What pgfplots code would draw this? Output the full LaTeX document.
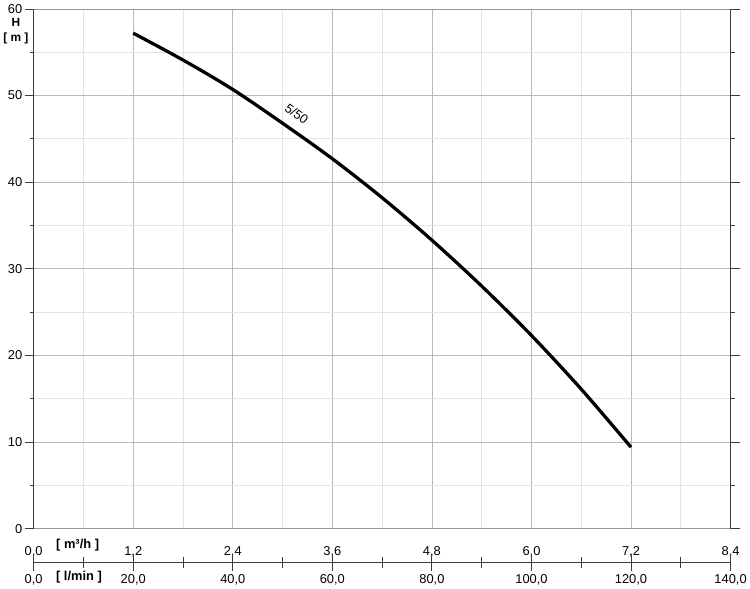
\documentclass[border=0pt]{standalone}
\usepackage{pgfplots}
\pgfplotsset{compat=1.18}
\usepackage{fontspec}
\setmainfont{Liberation Sans}

\definecolor{majgrid}{RGB}{185,185,185}
\definecolor{mingrid}{RGB}{228,228,228}
\definecolor{axgray}{RGB}{150,150,150}
\definecolor{axdark}{RGB}{60,60,60}

\begin{document}
\begin{tikzpicture}[font=\fontsize{13}{15}\selectfont]
% main pump curve axis, x in m3/h
\begin{axis}[
    name=main,
    scale only axis,
    width=704pt, height=525pt,
    xmin=0, xmax=8.4, ymin=0, ymax=60,
    xtick={0,1.2,2.4,3.6,4.8,6.0,7.2,8.4},
    minor xtick={0.6,1.8,3.0,4.2,5.4,6.6,7.8},
    ytick={0,10,...,60},
    minor ytick={5,15,...,55},
    grid=both,
    major grid style={majgrid, line width=0.8pt},
    minor grid style={mingrid, line width=0.8pt},
    separate axis lines,
    x axis line style={axgray, line width=0.8pt},
    y axis line style={axdark, line width=1.2pt},
    xtick style={draw=none},
    ytick style={axdark, line width=0.8pt},
    tick align=outside,
    major tick length=9pt,
    minor tick length=4pt,
    xticklabel style={yshift=-6pt},
    x tick label style={/pgf/number format/.cd, fixed, fixed zerofill, precision=1, use comma},
    /pgf/number format/assume math mode=true,
    yticklabel style={xshift=1pt},
    clip=false,
]
\addplot[black, line width=3.3pt, smooth] coordinates {
    (1.2,57.2) (1.8,54.1) (2.4,50.7) (3.0,46.8) (3.6,42.7) (4.2,38.2)
    (4.8,33.3) (5.4,28.0) (6.0,22.3) (6.6,16.1) (7.2,9.4)
};
\node[rotate=-36, inner sep=0pt] at (axis cs:3.17,47.9) {5/50};
\node[font=\bfseries\fontsize{12}{14}\selectfont] at (rel axis cs:0,1) [xshift=-18pt, yshift=-14pt] {H};
\node[font=\bfseries\fontsize{12}{14}\selectfont] at (rel axis cs:0,1) [xshift=-18pt, yshift=-30pt] {[ m ]};
\node[font=\bfseries\fontsize{13}{15}\selectfont] at (axis cs:0.53,0) [yshift=-17pt] {[ m³/h ]};
\end{axis}
% second x axis in l/min
\begin{axis}[
    at={(0pt,-34pt)}, anchor=south west,
    scale only axis,
    width=704pt, height=1pt,
    xmin=0, xmax=140, ymin=0, ymax=1,
    axis x line*=bottom,
    axis y line=none,
    xtick={0,20,...,140},
    minor xtick={10,30,...,130},
    x axis line style={axdark, line width=0.9pt},
    xtick style={axdark, line width=0.9pt},
    tick align=center,
    major tick length=17pt,
    minor tick length=11pt,
    xticklabel style={yshift=0pt},
    x tick label style={/pgf/number format/.cd, fixed, fixed zerofill, precision=1, use comma},
    /pgf/number format/assume math mode=true,
    clip=false,
]
\addplot[draw=none] coordinates {(0,0) (140,0)};
\node[font=\bfseries\fontsize{13}{15}\selectfont] at (axis cs:9.1,0) [yshift=-15pt] {[ l/min ]};
\end{axis}
\end{tikzpicture}
\end{document}
